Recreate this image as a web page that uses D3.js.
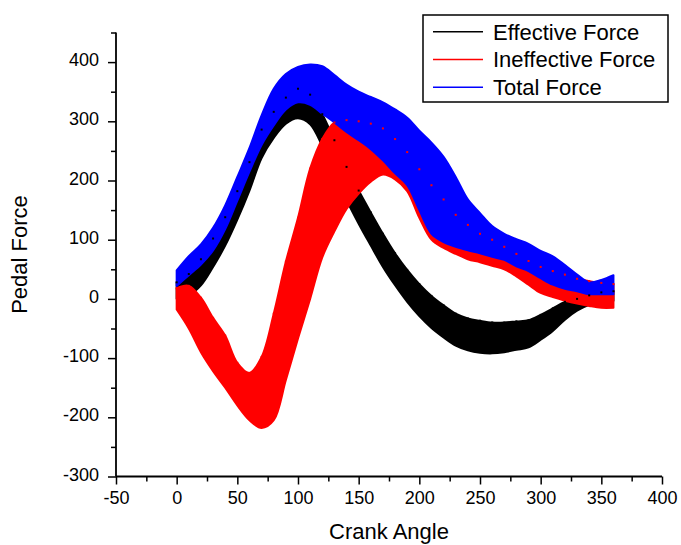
<!DOCTYPE html>
<html>
<head>
<meta charset="utf-8">
<script src="https://cdn.jsdelivr.net/npm/d3@7"></script>
<style>
  html, body { margin: 0; padding: 0; background: #fff; }
  svg { display: block; }
  text { font-family: "Liberation Sans", Arial, sans-serif; fill: #000; }
</style>
</head>
<body>
<svg id="chart" width="681" height="545"></svg>
<script>
// ---- data ----
const angles = [0,10,20,30,40,50,60,70,80,90,100,110,120,130,140,150,160,170,180,190,200,210,220,230,240,250,260,270,280,290,300,310,320,330,340,350,360];

const effectiveMean = [14,24,45,78,114,158,207,262,294,318,330,320,285,240,195,155,118,82,50,22,-2,-22,-38,-52,-60,-64,-66,-65,-62,-59,-48,-35,-20,-10,-2,3,5];
const effectiveSD   = [14,18,22,24,24,24,24,24,22,22,25,25,27,28,28,28,28,28,27,27,27,27,27,27,27,27,26,25,24,23,21,19,15,10,8,8,8];

const ineffectiveMean = [0,-14,-44,-77,-106,-144,-165,-158,-115,-37,35,110,170,206,227,239,247,249,236,215,178,146,127,109,96,86,78,69,57,44,32,25,19,13,9,6,5];
const ineffectiveSD   = [18,36,46,45,44,36,40,60,90,100,102,110,100,92,75,61,49,39,34,33,41,46,41,33,29,24,22,19,19,20,22,22,22,21,21,21,20];

const totalMean = [35,56,75,101,138,186,235,285,324,350,362,362,353,338,322,309,297,283,266,249,217,187,168,147,125,111,97,88,78,70,58,48,37,27,18,20,24];
const totalSD   = [13,16,17,19,20,20,20,25,31,30,30,34,40,40,40,41,44,49,54,57,67,77,72,59,43,34,26,22,23,23,23,24,20,14,10,12,16];

const seriesNames = ["Effective Force", "Ineffective Force", "Total Force"];
const seriesColors = ["#000000", "#ff0000", "#0000ff"];

const xMajorTicks = [-50,0,50,100,150,200,250,300,350,400];
const xMinorTicks = [-25,25,75,125,175,225,275,325,375];
const yMajorTicks = [-300,-200,-100,0,100,200,300,400];
const yMinorTicks = [-250,-150,-50,50,150,250,350,450];

const xTitle = "Crank Angle";
const yTitle = "Pedal Force";

// ---- build ----
const svg = d3.select("#chart");
const x = d3.scaleLinear().domain([-50, 400]).range([116, 662]);
const y = d3.scaleLinear().domain([-300, 450]).range([476.5, 32.5]);

const series = [
  { name: seriesNames[0], color: seriesColors[0], mean: effectiveMean, sd: effectiveSD },
  { name: seriesNames[1], color: seriesColors[1], mean: ineffectiveMean, sd: ineffectiveSD },
  { name: seriesNames[2], color: seriesColors[2], mean: totalMean, sd: totalSD }
];

const area = d3.area()
  .x(d => x(d.a))
  .y0(d => y(d.m - d.s))
  .y1(d => y(d.m + d.s))
  .curve(d3.curveCatmullRom.alpha(0.5));

const plot = svg.append("g");
series.forEach(s => {
  const pts = angles.map((a, i) => ({ a, m: s.mean[i], s: s.sd[i] }));
  plot.append("path")
    .datum(pts)
    .attr("d", area)
    .attr("fill", s.color)
    .attr("stroke", s.color)
    .attr("stroke-width", 2)
    .attr("stroke-linejoin", "round");
});

// upper-cap dots of the under-layers showing through
[series[0], series[1]].forEach(s => {
  plot.append("g").selectAll("rect")
    .data(angles.map((a, i) => ({ a, v: s.mean[i] + s.sd[i] })))
    .join("rect")
    .attr("x", d => x(d.a) - 1)
    .attr("y", d => y(d.v) - 1)
    .attr("width", 2)
    .attr("height", 2)
    .attr("fill", s.color);
});

// ---- axes ----
const axisG = svg.append("g");
const fmt = d => String(d);

const xAxis = d3.axisBottom(x).tickValues(xMajorTicks).tickFormat(fmt).tickSize(8).tickSizeOuter(0).tickPadding(7);
const xMinor = d3.axisBottom(x).tickValues(xMinorTicks).tickFormat("").tickSize(5).tickSizeOuter(0);
const yAxis = d3.axisLeft(y).tickValues(yMajorTicks).tickFormat(fmt).tickSize(8).tickSizeOuter(0).tickPadding(9);
const yMinor = d3.axisLeft(y).tickValues(yMinorTicks).tickFormat("").tickSize(5).tickSizeOuter(0);

function styleAxis(g) {
  g.select(".domain").remove();
  g.selectAll("line").attr("stroke", "#000").attr("stroke-width", 1.5);
  g.selectAll("text").attr("font-size", 18).attr("font-family", "Liberation Sans, Arial, sans-serif").attr("fill", "#000");
}

axisG.append("g").attr("transform", `translate(0,${y(-300)})`).call(xAxis).call(styleAxis);
axisG.append("g").attr("transform", `translate(0,${y(-300)})`).call(xMinor).call(styleAxis);
axisG.append("g").attr("transform", `translate(${x(-50)},0)`).call(yAxis).call(styleAxis)
  .selectAll("text").attr("dy", "0.2em");
axisG.append("g").attr("transform", `translate(${x(-50)},0)`).call(yMinor).call(styleAxis);

// axis lines
axisG.append("line")
  .attr("x1", x(-50)).attr("x2", x(400))
  .attr("y1", y(-300)).attr("y2", y(-300))
  .attr("stroke", "#000").attr("stroke-width", 1.8);
axisG.append("line")
  .attr("x1", x(-50)).attr("x2", x(-50))
  .attr("y1", y(-300)).attr("y2", y(450))
  .attr("stroke", "#000").attr("stroke-width", 1.8);

// titles
svg.append("text")
  .attr("x", (x(-50) + x(400)) / 2)
  .attr("y", 539)
  .attr("text-anchor", "middle")
  .attr("font-size", 22)
  .text(xTitle);
svg.append("text")
  .attr("transform", `translate(27,${(y(-300) + y(450)) / 2}) rotate(-90)`)
  .attr("text-anchor", "middle")
  .attr("font-size", 22)
  .text(yTitle);

// ---- legend ----
const lg = svg.append("g");
lg.append("rect")
  .attr("x", 423).attr("y", 15)
  .attr("width", 245).attr("height", 87)
  .attr("fill", "#fff").attr("stroke", "#000").attr("stroke-width", 1.5);
series.forEach((s, i) => {
  const ly = 31.7 + i * 27.8;
  lg.append("line")
    .attr("x1", 433).attr("x2", 483)
    .attr("y1", ly).attr("y2", ly)
    .attr("stroke", s.color).attr("stroke-width", 1.5);
  lg.append("text")
    .attr("x", 493).attr("y", ly + 7.8)
    .attr("font-size", 22)
    .text(s.name);
});
</script>
</body>
</html>
